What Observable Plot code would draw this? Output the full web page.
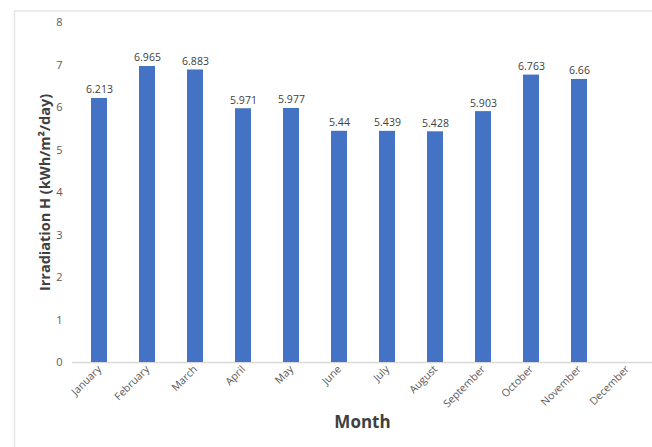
<!DOCTYPE html>
<html>
<head>
<meta charset="utf-8">
<script src="https://cdn.jsdelivr.net/npm/d3@7"></script>
<script src="https://cdn.jsdelivr.net/npm/@observablehq/plot@0.6"></script>
<style>
  html, body { margin: 0; padding: 0; background: #fff; overflow: hidden; }
  #wrap { width: 652px; height: 447px; }
  #wrap svg { display: block; }
</style>
</head>
<body>
<div id="wrap"></div>
<script>
const months = ["January","February","March","April","May","June","July","August","September","October","November","December"];
const values = [6.213, 6.965, 6.883, 5.971, 5.977, 5.44, 5.439, 5.428, 5.903, 6.763, 6.66, null];
const yTicks = [0,1,2,3,4,5,6,7,8];
const yLabel = "Irradiation H (kWh/m\u00B2/day)";
const xLabel = "Month";

const data = months.map((m, i) => ({month: m, value: values[i]})).filter(d => d.value != null);

const chart = Plot.plot({
  width: 652,
  height: 447,
  marginLeft: 72,
  marginRight: 0,
  marginTop: 22,
  marginBottom: 85,
  style: {fontFamily: "'Open Sans', sans-serif", background: "transparent"},
  x: {domain: months, range: [88, 637], paddingInner: 0.67, paddingOuter: 0, label: null},
  y: {domain: [0, 8], label: null},
  marks: [
    Plot.ruleY([0], {stroke: "#d9d9d9", strokeWidth: 1.5}),
    Plot.barY(data, {x: "month", y: "value", fill: "#4472C4"}),
    Plot.text(data, {x: "month", y: "value", text: d => String(d.value), lineAnchor: "bottom", dy: -5,
                     fill: "#404040", fontSize: 10.5}),
    Plot.axisY({ticks: yTicks, tickSize: 0, tickPadding: 10, label: null, fill: "#595959", fontSize: 11}),
    Plot.axisX({tickSize: 0, tickRotate: -45, tickPadding: 5, label: null, fill: "#595959", fontSize: 10.5}),
    Plot.text([yLabel], {frameAnchor: "left", textAnchor: "middle", rotate: -90, dx: -27, fontWeight: "bold", fontSize: 14.5, fill: "#404040"}),
    Plot.text([xLabel], {frameAnchor: "bottom", dy: 65, fontWeight: "bold", fontSize: 17, fill: "#404040"})
  ]
});
// chart-area border (decoration of the original picture)
const svg = d3.select(chart);
svg.insert("path", ":first-child")
  .attr("d", "M14.5,447V11H652")
  .attr("fill", "none")
  .attr("stroke", "#e6e6e6")
  .attr("stroke-width", 1.5);
document.getElementById("wrap").append(chart);
</script>
</body>
</html>
